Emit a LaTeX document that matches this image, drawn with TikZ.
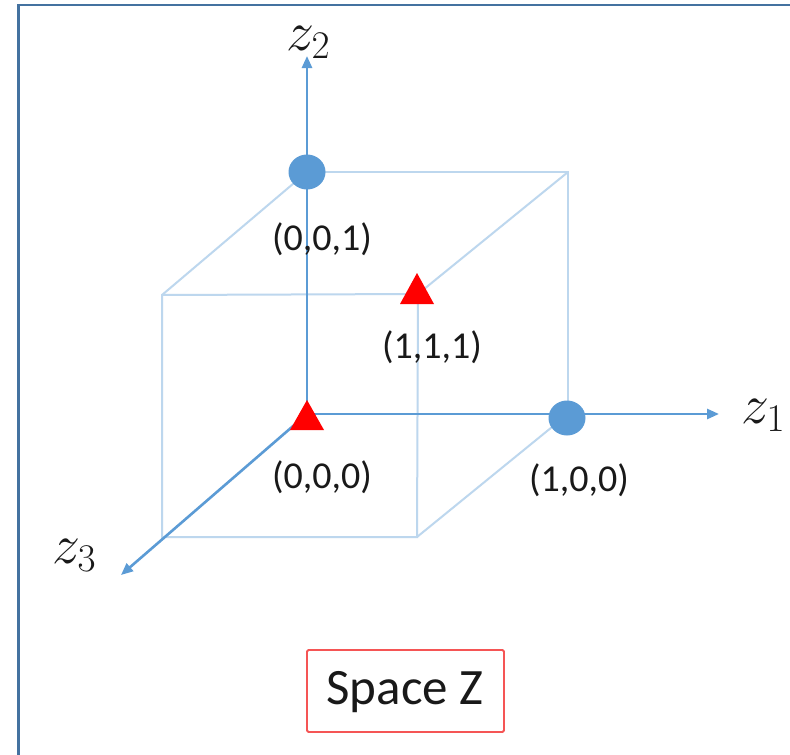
\documentclass[tikz,border=0pt]{standalone}
\usepackage{fix-cm}
\usepackage{fontspec}
\setmainfont{Carlito}
\usetikzlibrary{arrows.meta}
\definecolor{frameblue}{RGB}{68,114,160}
\definecolor{axisblue}{RGB}{91,155,213}
\definecolor{edgeblue}{RGB}{189,215,238}
\definecolor{boxred}{RGB}{245,85,85}
\tikzset{
  axis/.style={draw=axisblue, line width=2.6pt, -{Triangle[length=12pt,width=10pt]}},
  edge/.style={draw=edgeblue, line width=2pt},
  dot/.style={fill=axisblue, draw=none},
  tri/.style={fill=red, draw=none},
  lab/.style={font=\fontsize{38}{40}\selectfont, inner sep=0pt, text=black!90},
  zlab/.style={font=\fontsize{56}{60}\selectfont, inner sep=0pt, anchor=base west, text=black!90},
}
\begin{document}
\begin{tikzpicture}[x=1pt,y=-1pt]
\useasboundingbox (0,0) rectangle (790,755);
\fill[white] (0,0) rectangle (790,755);
% frame
\draw[frameblue, line width=2.8pt] (18.5,755) -- (18.5,5) -- (790,5);
% cube coordinates
\coordinate (O) at (307,414);
\coordinate (B2) at (307,172);
\coordinate (B12) at (568,172);
\coordinate (B1) at (568,414);
\coordinate (F3) at (162,537);
\coordinate (F23) at (162,295);
\coordinate (F123) at (418,294);
\coordinate (F13) at (417,537);
\coordinate (Z1) at (719,414);
\coordinate (Z2) at (307,56);
\coordinate (Z3) at (121,575);
% light cube edges
\draw[edge] (B2) -- (B12) -- (B1);
\draw[edge] (F3) -- (F23) -- (F123) -- (F13) -- cycle;
\draw[edge] (B2) -- (F23);
\draw[edge] (B12) -- (F123);
\draw[edge] (B1) -- (F13);
% axes
\draw[axis] (O) -- (Z1);
\draw[axis] (O) -- (Z2);
\draw[axis] (O) -- (Z3);
% markers
\fill[dot] (B2) ellipse [x radius=18.5, y radius=17.5];
\fill[dot] (567,418) ellipse [x radius=18.5, y radius=17.5];
\fill[tri] (307,400) -- (324,430) -- (290,430) -- cycle;
\fill[tri] (417,273) -- (434,304) -- (400,304) -- cycle;
% labels
\node[lab] (l001) at (322,239) {(0,0,1)};
\node[lab] (l111) at (432,347) {(1,1,1)};
\node[lab] (l000) at (322,477) {(0,0,0)};
\node[lab] (l100) at (579,480) {(1,0,0)};
\node[zlab] (z1) at (741,423) {$z_1$};
\node[zlab] (z2) at (286,50) {$z_2$};
\node[zlab] (z3) at (52,563) {$z_3$};
% space box
\draw[boxred, line width=1.8pt, rounded corners=1.5pt] (307,650) rectangle (504,732);
\node[font=\fontsize{51}{54}\selectfont, inner sep=0pt, text=black!90] (sz) at (405,692) {Space Z};
\end{tikzpicture}
\end{document}
